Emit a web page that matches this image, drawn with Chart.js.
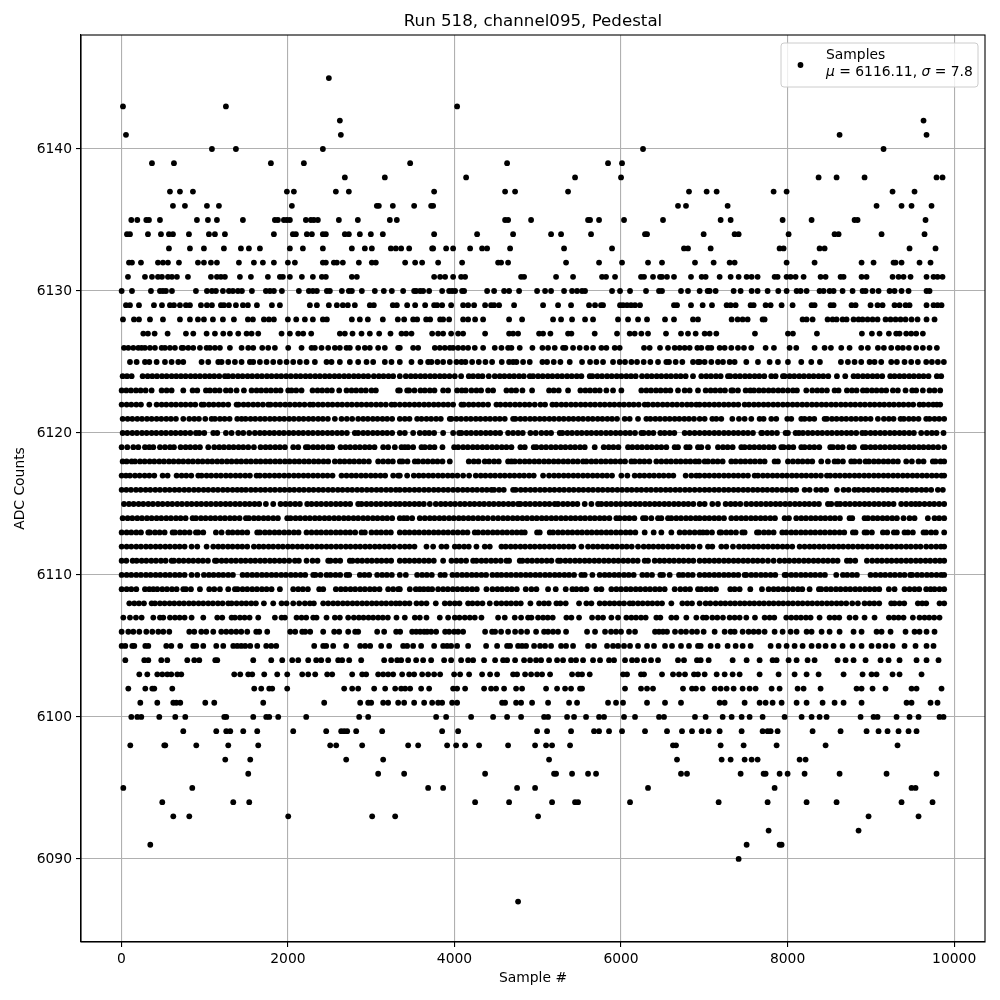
<!DOCTYPE html>
<html>
<head>
<meta charset="utf-8">
<title>Run 518, channel095, Pedestal</title>
<script src="https://cdn.jsdelivr.net/npm/chart.js@4"></script>
<style>
  html, body { margin: 0; padding: 0; background: #fff; }
  canvas { display: block; }
</style>
</head>
<body>
<canvas id="chart" width="1000" height="1000"></canvas>
<script>
// Sample numbers, one array per ADC level
const at6145 = [2492];
const at6143 = [20,1256,4032];
const at6142 = [2624,9632];
const at6141 = [56,2636,8624,9668];
const at6140 = [1088,1376,2420,6264,9152];
const at6139 = [368,632,1796,2192,3468,4632,5844,6012];
const at6138 = [2684,3164,4140,5448,6000,8372,8588,8924,9788,9860];
const at6137 = [584,704,860,1988,2072,2576,2732,3756,4608,4728,5364,6816,7028,7148,7832,7988,9260,9524];
const at6136 = [620,764,1028,1172,2048,3068,3092,3260,3516,3720,3744,6684,6780,7280,9068,9368,9488,9728];
const at6135 = [120,192,300,332,464,908,1040,1148,1460,1844,1880,1952,1988,2024,2216,2276,2312,2360,2612,2840,3224,3308,4608,4644,4920,5604,5628,5736,6036,6504,7196,7316,7940,8288,8804,8840,9656];
const at6134 = [68,104,320,476,572,620,812,1052,1124,1244,1832,2060,2096,2228,2288,2420,2456,2684,2732,2864,2996,3140,3756,4272,4704,5160,5280,5640,6288,6312,6992,7364,7412,8012,8564,8612,9128,9644];
const at6133 = [572,824,992,1232,1436,1532,1664,2024,2180,2420,2768,2924,3008,3236,3296,3360,3456,3732,3744,3900,3984,4188,4332,4392,4668,5316,5892,6756,6804,7076,7904,7952,8384,8444,9464,9776];
const at6132 = [92,128,236,440,500,560,692,920,992,1076,1148,1412,1592,1700,1832,2000,2084,2420,2456,2552,2588,2660,2852,3008,3056,3408,3528,3612,3804,4092,4524,4560,4644,5340,5736,6012,6324,6492,6888,7112,7304,7364,7988,8324,8888,9032,9272,9296,9368,9584,9716];
const at6131 = [80,284,368,440,488,560,608,668,800,1076,1148,1196,1244,1424,1556,1760,1904,1940,2024,2168,2300,2408,2456,2768,2828,3756,3828,3888,3984,4080,4128,4800,4836,5220,5424,5772,5820,5928,6240,6276,6384,6468,6492,6552,6636,6840,6968,7016,7184,7316,7412,7508,7568,7640,7844,7880,7988,8036,8096,8192,8396,8456,8636,8672,8888,8948,9260,9332,9392,9476,9668,9752,9800,9860];
const at6130 = [4,128,356,464,500,536,608,896,1028,1088,1136,1220,1292,1340,1400,1448,1568,1736,1784,1832,1928,2132,2252,2300,2348,2468,2504,2648,2732,2768,2888,3044,3152,3248,3384,3516,3540,3588,3624,3696,3852,3936,3972,4008,4092,4116,4392,4476,4596,4656,4776,4992,5088,5160,5316,5412,5472,5532,5568,5892,5988,6108,6300,6456,6492,6720,6804,6944,7040,7064,7136,7352,7436,7568,7640,7760,7888,7988,8108,8156,8228,8384,8432,8504,8552,8660,8780,8900,8936,9020,9092,9224,9284,9368,9452,9668,9704];
const at6129 = [56,104,212,392,488,584,632,704,776,824,956,1028,1088,1196,1232,1292,1376,1460,1520,1628,1808,1904,2264,2348,2492,2588,2660,2720,2804,2984,3032,3260,3308,3432,3528,3648,3756,3792,3852,3960,4104,4164,4236,4368,4440,4476,4536,4716,5064,5244,5400,5616,5688,5760,5784,5988,6024,6072,6120,6168,6228,6636,6672,6840,6980,7092,7268,7316,7376,7556,7592,7736,7796,7928,8060,8288,8324,8516,8552,8768,8816,8996,9080,9140,9284,9344,9416,9464,9668,9752,9800,9848];
const at6128 = [20,152,212,344,500,704,824,920,992,1100,1220,1352,1520,1580,1712,1772,1832,2000,2100,2204,2300,2420,2468,2768,2864,2960,3140,3320,3396,3504,3552,3660,3708,3828,3864,3936,4104,4164,4248,4344,4656,4812,5184,5280,5412,5568,5664,5964,6084,6204,6312,6528,6636,6864,6924,7328,7400,7460,7520,7700,7724,8180,8228,8300,8480,8540,8588,8660,8708,8792,8852,8900,8960,9020,9080,9176,9236,9296,9356,9416,9488,9560,9668,9764];
const at6127 = [264,320,400,556,776,864,1024,1124,1224,1304,1404,1504,1564,1644,1924,2024,2124,2184,2280,2624,2684,2776,2884,2984,3096,3232,3364,3420,3484,3732,3804,3864,3960,4044,4104,4368,4656,4704,4764,5016,5064,5152,5364,5404,5684,5952,6104,6164,6244,6324,6540,6720,6804,6896,7004,7064,7144,7608,8004,8064,8352,8892,9012,9104,9216,9304,9344,9424,9484,9544,9624];
const at6126 = [32,84,144,204,244,284,344,404,484,524,584,644,724,744,804,864,944,1024,1064,1124,1184,1304,1444,1524,1584,1692,1764,1844,2004,2164,2284,2324,2404,2484,2564,2624,2704,2744,2844,2924,2984,3084,3164,3324,3344,3504,3564,3764,3824,3884,3944,3984,4044,4104,4164,4244,4344,4484,4564,4644,4684,4784,4936,5056,5124,5204,5304,5332,5424,5504,5584,5664,5764,5824,5924,5984,6276,6344,6468,6564,6644,6704,6764,6824,6916,6964,7044,7084,7184,7244,7324,7404,7476,7564,7736,7836,8024,8104,8324,8444,8520,8644,8744,8884,8964,9084,9156,9244,9324,9384,9456,9544,9624,9704,9792];
const at6125 = [104,184,284,336,424,524,604,684,744,964,1044,1164,1204,1284,1364,1444,1544,1584,1664,1744,1824,1904,1984,2064,2144,2224,2324,2464,2524,2624,2744,2844,2944,3024,3164,3244,3344,3484,3592,3684,3724,3796,3864,3944,4024,4084,4132,4212,4292,4372,4452,4568,4656,4704,4744,4824,4904,5056,5112,5192,5272,5384,5532,5628,5704,5784,5904,5984,6048,6124,6192,6272,6352,6444,6544,6576,6656,6736,6864,6924,6944,7004,7084,7164,7224,7304,7364,7504,7644,7784,7884,8004,8164,8284,8388,8640,8724,8804,8884,8984,9044,9124,9244,9312,9404,9484,9564,9664,9732,9804,9876];
const at6124 = [16,68,124,256,316,372,428,488,544,604,660,716,772,832,888,944,1004,1060,1116,1176,1244,1284,1340,1400,1456,1516,1572,1632,1688,1748,1804,1864,1920,1980,2036,2096,2152,2212,2268,2328,2384,2444,2500,2560,2616,2676,2732,2792,2848,2908,2964,3032,3092,3148,3208,3264,3344,3416,3476,3532,3592,3648,3708,3764,3824,3880,3940,4004,4080,4172,4224,4284,4336,4412,4484,4544,4600,4660,4716,4776,4832,4904,4944,5004,5060,5120,5176,5236,5292,5352,5408,5468,5524,5624,5656,5716,5772,5832,5888,5948,6004,6064,6120,6176,6252,6312,6368,6428,6484,6544,6600,6660,6716,6776,6864,6964,7024,7080,7140,7196,7284,7312,7372,7428,7488,7544,7604,7660,7720,7804,7856,7944,7964,8024,8080,8140,8196,8256,8312,8372,8428,8488,8592,8692,8792,8844,8904,8960,9020,9076,9136,9232,9284,9344,9400,9460,9516,9576,9632,9692,9792,9844];
const at6123 = [4,60,116,176,232,292,364,484,544,604,744,856,912,1016,1064,1124,1180,1256,1312,1384,1472,1564,1624,1680,1740,1796,1856,1912,2004,2044,2100,2164,2296,2356,2412,2472,2528,2616,2704,2764,2820,2880,2936,3004,3056,3324,3344,3432,3456,3520,3592,3644,3704,3760,3864,3924,4032,4088,4136,4204,4264,4320,4404,4464,4624,4684,4740,4816,4932,5136,5192,5252,5364,5512,5572,5628,5688,5744,5824,5904,6004,6244,6304,6360,6420,6476,6536,6592,6684,6764,6824,6924,7016,7076,7132,7192,7248,7324,7344,7404,7496,7552,7596,7656,7712,7772,7828,7888,7944,8004,8064,8112,8224,8296,8356,8412,8472,8564,8612,8712,8772,8828,8904,8952,9012,9068,9128,9184,9264,9324,9416,9496,9544,9624,9704,9764,9832];
const at6122 = [4,64,120,180,236,336,424,484,540,600,656,716,772,832,888,964,992,1052,1108,1168,1224,1284,1384,1408,1468,1524,1584,1640,1700,1764,1792,1852,1908,1968,2024,2084,2140,2200,2264,2304,2364,2420,2480,2536,2596,2652,2712,2768,2828,2884,2944,3000,3060,3116,3176,3244,3284,3344,3404,3460,3520,3576,3636,3692,3752,3808,3868,3924,3984,4084,4112,4172,4228,4288,4344,4404,4504,4552,4612,4668,4728,4784,4844,4900,4964,5032,5088,5176,5224,5284,5340,5400,5456,5516,5572,5632,5688,5748,5804,5864,5920,5980,6036,6096,6152,6212,6284,6324,6384,6440,6500,6556,6616,6672,6732,6792,6844,6904,6944,7004,7060,7120,7176,7236,7292,7352,7408,7484,7536,7596,7652,7712,7768,7828,7884,7944,8000,8060,8116,8176,8232,8292,8348,8408,8464,8524,8580,8640,8696,8756,8812,8872,8928,8988,9044,9104,9160,9220,9276,9336,9392,9452,9508,9584,9632,9692,9748,9792,9832];
const at6121 = [16,76,132,192,248,308,364,424,480,540,596,656,744,816,876,932,1008,1084,1124,1184,1240,1300,1392,1444,1492,1552,1608,1668,1724,1784,1840,1900,1956,2016,2072,2132,2188,2248,2304,2364,2420,2480,2564,2644,2708,2772,2844,2904,2960,3020,3076,3136,3192,3252,3344,3404,3460,3552,3604,3664,3720,3780,3836,3944,3964,4024,4080,4140,4196,4256,4312,4372,4428,4488,4544,4604,4704,4732,4792,4848,4908,4964,5024,5080,5140,5196,5256,5312,5372,5428,5488,5544,5604,5660,5720,5776,5836,5892,5952,6044,6104,6204,6304,6352,6412,6468,6528,6584,6644,6700,6760,6816,6876,6944,7004,7096,7144,7204,7336,7416,7484,7564,7664,7712,7804,7864,7996,8044,8164,8204,8264,8320,8444,8472,8532,8588,8648,8704,8764,8820,8880,8936,8996,9084,9156,9216,9272,9356,9396,9456,9512,9572,9664,9704,9764,9820,9880];
const at6120 = [16,72,132,188,248,304,364,420,480,536,596,652,712,768,828,896,936,996,1104,1152,1256,1324,1404,1464,1536,1604,1664,1720,1780,1836,1896,1952,2012,2068,2128,2184,2244,2300,2360,2416,2476,2532,2592,2648,2708,2804,2844,2904,2960,3020,3076,3136,3192,3252,3344,3404,3504,3584,3644,3696,3756,3864,3984,4056,4084,4144,4200,4260,4316,4376,4432,4492,4548,4644,4704,4764,4820,4912,4976,5044,5104,5160,5264,5296,5356,5412,5472,5528,5588,5644,5704,5760,5820,5876,5936,5992,6052,6108,6168,6244,6272,6332,6388,6472,6524,6584,6640,6764,6824,6884,6944,7004,7060,7120,7176,7236,7292,7352,7408,7468,7524,7584,7684,7696,7756,7812,7872,7976,8004,8096,8136,8184,8244,8300,8360,8416,8476,8532,8592,8648,8708,8764,8824,8896,8936,8996,9052,9112,9168,9228,9284,9344,9400,9460,9516,9604,9672,9732,9788,9872];
const at6119 = [4,72,144,204,284,336,384,464,524,584,632,712,772,828,888,944,1044,1116,1176,1232,1292,1348,1408,1464,1524,1592,1672,1732,1788,1848,1904,1964,2064,2124,2216,2244,2304,2360,2420,2484,2532,2632,2692,2748,2808,2864,2924,2980,3040,3144,3204,3284,3364,3404,3444,3504,3604,3644,3704,3760,3856,3996,4044,4104,4160,4220,4276,4336,4392,4452,4508,4568,4624,4684,4792,4844,4952,4984,5044,5100,5160,5216,5276,5332,5392,5448,5508,5564,5684,5792,5852,5908,5968,6084,6136,6196,6252,6312,6368,6428,6484,6544,6644,6684,6784,6824,6924,6964,7044,7164,7224,7280,7340,7444,7484,7544,7600,7660,7716,7776,7832,7924,7952,8012,8068,8164,8204,8264,8320,8380,8512,8544,8604,8660,8744,8796,8904,8936,8996,9052,9112,9168,9228,9284,9344,9400,9460,9516,9576,9632,9692,9748,9808,9880];
const at6118 = [16,64,124,164,224,280,340,396,456,512,572,628,688,744,804,860,920,976,1036,1092,1152,1208,1268,1324,1384,1440,1500,1556,1616,1672,1732,1788,1848,1904,1964,2020,2080,2136,2196,2252,2312,2368,2428,2484,2564,2624,2680,2740,2796,2856,2912,2972,3084,3144,3204,3260,3344,3376,3436,3524,3564,3624,3680,3740,3796,3856,3944,4172,4232,4288,4364,4416,4476,4532,4644,4684,4724,4784,4844,4900,4960,5016,5076,5132,5192,5248,5308,5364,5424,5480,5544,5584,5644,5700,5760,5816,5876,5932,5992,6048,6124,6164,6224,6280,6340,6424,6484,6544,6600,6660,6716,6776,6832,6892,6936,7004,7044,7104,7160,7220,7324,7376,7436,7492,7552,7608,7668,7724,7844,7884,8004,8064,8124,8180,8240,8296,8404,8484,8564,8604,8664,8764,8804,8864,8936,8976,9036,9092,9152,9208,9268,9324,9424,9492,9572,9632,9744,9776,9836,9880];
const at6117 = [4,56,104,164,220,280,336,396,496,556,664,724,780,840,924,964,1024,1080,1140,1196,1256,1312,1372,1428,1488,1544,1624,1664,1724,1780,1840,1896,1956,2012,2072,2128,2188,2244,2304,2360,2420,2476,2536,2644,2704,2764,2820,2880,2936,2996,3052,3112,3168,3264,3324,3344,3432,3512,3572,3628,3688,3744,3804,3860,3920,3976,4036,4104,4176,4256,4316,4372,4432,4488,4548,4604,4664,4720,4780,4836,4896,4952,5064,5136,5196,5252,5312,5368,5428,5484,5544,5600,5660,5716,5776,5832,5892,6004,6076,6164,6224,6280,6340,6396,6456,6512,6572,6628,6776,6844,6904,6944,7004,7060,7120,7176,7236,7292,7352,7408,7468,7524,7604,7644,7704,7760,7820,7876,7936,7992,8052,8108,8168,8224,8284,8340,8400,8472,8512,8572,8628,8688,8744,8804,8860,8920,8976,9036,9092,9152,9208,9268,9324,9384,9440,9500,9556,9616,9672,9732,9788,9848,9880];
const at6116 = [4,60,116,176,232,292,348,408,464,524,580,640,696,756,812,872,928,988,1044,1104,1160,1220,1276,1336,1392,1444,1496,1556,1612,1672,1728,1788,1844,1904,1960,2020,2076,2136,2192,2252,2308,2368,2424,2484,2540,2600,2656,2716,2772,2832,2888,2948,3004,3064,3120,3180,3236,3296,3344,3404,3460,3520,3576,3636,3692,3752,3808,3868,3924,3984,4040,4100,4156,4216,4272,4332,4388,4444,4476,4536,4592,4704,4736,4796,4852,4912,4968,5028,5084,5144,5200,5260,5316,5376,5432,5492,5548,5608,5664,5724,5780,5840,5896,5956,6012,6072,6128,6188,6244,6304,6360,6420,6476,6536,6592,6652,6708,6768,6824,6884,6944,7004,7060,7120,7176,7236,7292,7352,7408,7468,7524,7584,7640,7700,7756,7816,7872,7932,7988,8048,8104,8204,8264,8344,8404,8464,8592,8672,8732,8804,8852,8912,8968,9028,9084,9144,9200,9260,9316,9376,9432,9492,9548,9608,9664,9724,9804,9864];
const at6115 = [32,92,148,208,264,324,380,440,496,556,612,672,728,788,844,904,960,1020,1076,1136,1192,1252,1308,1368,1424,1484,1540,1600,1656,1736,1824,1912,1972,2028,2088,2144,2232,2284,2344,2400,2460,2516,2576,2632,2692,2748,2844,2884,2944,3000,3060,3116,3176,3232,3292,3344,3404,3460,3520,3576,3632,3704,3776,3836,3892,3952,4008,4068,4124,4184,4240,4300,4356,4416,4472,4532,4588,4648,4704,4764,4792,4852,4908,4968,5024,5084,5140,5204,5244,5304,5360,5420,5476,5564,5644,5724,5764,5824,5880,5940,5996,6056,6112,6172,6228,6288,6344,6404,6460,6520,6576,6636,6692,6752,6808,6868,6944,7004,7096,7164,7256,7316,7372,7432,7504,7564,7624,7680,7740,7796,7856,7912,7972,8028,8088,8144,8204,8260,8320,8376,8484,8524,8592,8632,8692,8748,8808,8864,8924,8980,9040,9096,9156,9212,9272,9364,9424,9484,9536,9584,9644,9704,9760,9820,9880];
const at6114 = [16,76,132,192,248,308,364,424,480,540,596,656,712,772,856,896,956,1012,1072,1128,1188,1244,1304,1360,1420,1496,1532,1592,1648,1708,1764,1824,1880,1992,2032,2092,2148,2208,2264,2324,2380,2440,2496,2556,2612,2672,2728,2788,2844,2904,2960,3020,3076,3136,3192,3252,3344,3392,3432,3492,3584,3644,3704,3760,3820,3876,3936,3992,4052,4108,4168,4224,4284,4340,4400,4464,4524,4584,4640,4700,4756,4816,4872,4932,4988,5048,5104,5164,5220,5280,5336,5396,5452,5512,5568,5628,5684,5744,5800,5860,5944,5984,6044,6100,6160,6264,6296,6364,6444,6484,6564,6604,6664,6720,6780,6836,6896,6944,7004,7060,7120,7176,7236,7324,7384,7444,7500,7560,7616,7676,7732,7792,7848,7964,8016,8104,8164,8220,8280,8336,8396,8452,8512,8568,8628,8744,8776,8924,8964,9024,9080,9140,9196,9256,9312,9392,9464,9524,9684,9764,9820,9880];
const at6113 = [4,64,120,180,236,324,344,404,460,520,616,644,704,760,820,896,924,984,1136,1204,1284,1336,1396,1452,1512,1632,1664,1724,1780,1840,1896,1956,2012,2072,2128,2224,2284,2344,2400,2460,2516,2576,2632,2692,2748,2808,2884,2924,3004,3064,3120,3180,3236,3344,3404,3460,3520,3576,3636,3692,3752,3808,3868,3924,3984,4040,4100,4156,4244,4284,4344,4400,4460,4516,4576,4632,4692,4748,4804,4844,4992,5024,5144,5184,5244,5300,5360,5416,5476,5532,5592,5648,5708,5764,5824,5880,5940,5996,6056,6112,6172,6284,6392,6484,6604,6704,6764,6824,6884,6944,6984,7032,7092,7184,7204,7264,7320,7380,7456,7484,7632,7656,7716,7772,7832,7936,7984,8044,8100,8160,8216,8276,8332,8392,8448,8508,8564,8624,8680,8784,8816,8924,8952,9012,9144,9196,9276,9312,9404,9444,9504,9632,9664,9724,9780,9880];
const at6112 = [4,64,120,180,236,296,352,412,468,528,584,644,700,760,844,912,1024,1104,1164,1220,1280,1336,1396,1452,1512,1592,1652,1708,1768,1824,1884,1940,2000,2056,2116,2172,2232,2288,2348,2404,2464,2520,2580,2636,2696,2752,2812,2868,2928,2984,3044,3100,3160,3216,3276,3344,3404,3460,3520,3664,3744,3844,3904,4004,4056,4116,4172,4264,4364,4424,4564,4616,4676,4732,4792,4848,4908,4964,5024,5080,5140,5196,5256,5312,5372,5428,5524,5604,5664,5720,5780,5836,5896,5952,6012,6068,6128,6204,6272,6332,6388,6448,6504,6564,6620,6680,6744,6804,6864,6944,7044,7096,7204,7264,7344,7416,7476,7532,7592,7648,7708,7764,7824,7880,7940,7996,8056,8144,8204,8264,8320,8380,8436,8496,8552,8612,8668,8728,8784,8844,8900,8960,9016,9076,9132,9192,9248,9308,9364,9424,9480,9540,9596,9664,9724,9784,9840,9880];
const at6111 = [4,60,136,184,244,300,360,416,476,532,604,632,692,748,808,864,924,980,1040,1124,1144,1204,1260,1320,1376,1436,1492,1552,1608,1668,1724,1784,1840,1900,1956,2016,2084,2132,2224,2296,2356,2484,2512,2572,2628,2744,2776,2836,2892,2952,3008,3068,3124,3184,3240,3344,3404,3460,3520,3576,3636,3692,3752,3864,3964,4024,4080,4140,4224,4264,4324,4380,4440,4496,4556,4624,4656,4784,4816,4876,4932,4992,5048,5108,5164,5244,5272,5332,5388,5448,5504,5564,5620,5680,5736,5796,5852,5912,5968,6028,6084,6144,6200,6284,6324,6404,6464,6520,6580,6636,6696,6752,6812,6868,6944,7004,7060,7120,7176,7236,7292,7352,7408,7468,7524,7584,7640,7700,7764,7832,7904,7964,8020,8080,8136,8196,8252,8312,8368,8428,8484,8544,8600,8712,8752,8812,8952,9016,9076,9132,9192,9248,9308,9364,9424,9480,9540,9596,9656,9712,9772,9828,9880];
const at6110 = [4,64,120,180,236,296,352,412,468,528,584,644,700,760,844,912,992,1052,1108,1168,1224,1284,1340,1456,1512,1572,1628,1688,1744,1804,1860,1920,1976,2036,2092,2152,2208,2304,2332,2392,2464,2512,2572,2628,2704,2736,2864,2920,2976,3072,3132,3188,3248,3344,3416,3552,3612,3668,3728,3832,3884,3976,4032,4092,4148,4208,4264,4324,4380,4456,4512,4564,4624,4680,4740,4796,4856,4912,4972,5028,5088,5144,5204,5260,5320,5376,5436,5524,5564,5656,5744,5804,5860,5920,5976,6036,6092,6152,6256,6312,6372,6472,6504,6584,6696,6744,6804,6860,6944,7004,7060,7120,7176,7236,7292,7352,7408,7484,7504,7564,7620,7680,7736,7796,7852,7964,7984,8044,8100,8160,8216,8276,8332,8392,8448,8584,8664,8716,8776,8832,8996,9056,9116,9172,9232,9288,9348,9404,9472,9496,9556,9612,9672,9728,9788,9844,9880];
const at6109 = [4,64,120,180,284,336,384,432,492,548,608,664,744,776,836,944,1056,1116,1184,1284,1364,1396,1456,1512,1572,1628,1688,1744,1804,1904,2064,2124,2180,2240,2376,2424,2576,2636,2692,2752,2808,2868,2924,2984,3040,3100,3204,3264,3324,3344,3464,3536,3584,3632,3684,3732,3804,3864,3920,3980,4036,4096,4152,4212,4268,4384,4456,4516,4572,4632,4688,4748,4856,4924,4984,5124,5216,5336,5416,5464,5524,5584,5704,5764,5884,5944,6000,6060,6116,6176,6232,6292,6348,6408,6464,6524,6644,6712,6772,6828,6924,6964,7024,7080,7140,7312,7364,7424,7552,7692,7772,7832,7888,7948,8004,8064,8124,8176,8264,8376,8404,8464,8520,8580,8636,8696,8752,8812,8868,8928,8984,9044,9100,9216,9284,9404,9464,9524,9580,9664,9716,9764,9824,9880];
const at6108 = [96,156,212,272,364,404,464,520,580,636,696,752,812,868,928,984,1044,1100,1160,1216,1284,1324,1384,1444,1500,1560,1616,1712,1824,1924,1984,2064,2136,2204,2264,2312,2424,2484,2544,2600,2660,2716,2776,2832,2892,2948,3008,3064,3124,3180,3240,3296,3344,3404,3460,3544,3604,3664,3776,3884,3944,4004,4060,4164,4216,4276,4336,4424,4504,4564,4624,4680,4740,4796,4912,5016,5076,5132,5224,5272,5336,5496,5584,5644,5744,5804,5864,5920,5980,6036,6104,6144,6204,6260,6320,6376,6436,6492,6604,6736,6796,6852,6944,7016,7072,7136,7196,7252,7312,7368,7428,7484,7544,7600,7660,7716,7776,7832,7892,7948,8008,8064,8124,8180,8240,8296,8356,8412,8472,8528,8588,8644,8704,8776,8844,8924,8984,9040,9100,9244,9284,9344,9400,9564,9616,9664,9824,9880];
const at6107 = [24,104,176,244,384,464,504,584,644,700,760,844,984,1152,1212,1324,1364,1424,1480,1540,1644,1844,1924,1964,2104,2164,2220,2304,2344,2464,2564,2624,2724,2792,2852,2908,2968,3024,3084,3140,3200,3304,3404,3524,3584,3664,3824,3924,4004,4060,4124,4184,4244,4324,4524,4604,4724,4800,4884,4924,5004,5064,5120,5180,5344,5404,5496,5652,5724,5784,5884,5964,6064,6124,6180,6240,6296,6424,6472,6604,6664,6784,6904,6984,7024,7096,7156,7224,7304,7364,7424,7504,7608,7724,7784,7840,7984,8044,8104,8160,8220,8276,8384,8504,8564,8620,8744,8816,8924,9044,9216,9276,9332,9392,9504,9584,9644,9700,9760,9824];
const at6106 = [4,84,144,216,300,372,444,504,576,816,876,960,1020,1104,1200,1260,1320,1380,1440,1512,1620,1656,1752,2028,2088,2172,2208,2268,2424,2556,2616,2724,2808,2844,3072,3156,3300,3348,3492,3540,3588,3636,3672,3720,3780,3888,3936,3996,4044,4104,4368,4452,4488,4560,4644,4728,4800,4872,4980,5076,5124,5184,5244,5340,5592,5688,5808,5880,5940,6000,6096,6168,6408,6456,6504,6552,6648,6720,6780,6852,6912,6992,7124,7244,7316,7364,7460,7532,7592,7652,7724,7844,7940,8036,8108,8228,8288,8408,8504,8624,8792,8888,9068,9128,9236,9416,9524,9584,9668,9764];
const at6105 = [4,48,132,156,288,324,540,600,708,864,900,984,1140,1224,1344,1392,1440,1488,1548,1632,1740,1800,1860,2316,2424,2460,2544,2700,2868,2928,2988,3120,3216,3384,3432,3504,3600,3756,3864,3912,3960,4032,4164,4380,4512,4632,4668,4764,4812,4860,4956,5028,5088,5160,5280,5340,5424,5604,5676,5832,5904,5964,6036,6108,6204,6312,6396,6528,6612,6720,6816,6924,6956,7076,7160,7280,7376,7460,7556,7796,7892,7988,8084,8180,8288,8372,8456,8552,8660,8780,8888,9008,9092,9176,9260,9404,9536,9668,9752];
const at6104 = [48,276,324,480,552,792,876,936,1128,1152,1584,1800,1932,2052,2124,2244,2340,2400,2484,2604,2652,2736,2880,3156,3240,3312,3360,3444,3540,3624,3720,3876,3960,4080,4164,4224,4356,4488,4584,4632,4728,4836,4908,4980,5040,5136,5232,5304,5400,5460,5544,5664,5748,5856,5916,6048,6132,6192,6276,6360,6444,6684,6756,6912,6956,7052,7340,7508,7664,7820,7868,8012,8108,8240,8324,8600,8696,8792,8936,9116,9212,9344,9548,9668,9812];
const at6103 = [216,312,432,492,552,600,672,720,1356,1428,1524,1572,1716,1872,1992,2172,2244,2328,2472,2532,2772,2892,2940,3084,3144,3204,3264,3372,3456,3516,3612,3684,3756,3828,3996,4068,4176,4332,4428,4512,4704,4752,4848,4920,4992,5052,5148,5412,5484,5532,5624,6024,6072,6240,6276,6492,6624,6696,6768,6876,6924,7004,7148,7244,7340,7424,7664,7892,8084,8228,8372,8672,8900,9008,9068,9260,9344,9608];
const at6102 = [84,288,372,396,612,1596,1680,1776,1812,1992,2676,2772,2844,3036,3168,3288,3360,3408,3468,3600,3696,3984,4032,4128,4356,4440,4500,4596,4740,4812,5100,5232,5328,5400,5508,5532,6048,6240,6312,6384,6744,6852,6900,6980,7124,7196,7268,7352,7460,7544,7616,7808,7904,8120,8192,8396,8828,8888,9020,9176,9488,9548,9848];
const at6101 = [228,432,624,660,708,1008,1116,1704,2436,2868,2964,3000,3144,3204,3324,3396,3516,3636,3732,3804,3852,3972,4032,4572,4608,4740,4800,4932,5124,5376,5472,5844,5940,6024,6312,6528,6720,7184,7244,7484,7664,7736,7820,7928,8108,8228,8420,8564,8672,8888,9428,9488,9716,9800];
const at6100 = [120,192,240,456,648,768,1236,1260,1584,1740,1776,1884,2220,2856,2964,3780,3900,4200,4464,4632,4800,5076,5124,5352,5436,5580,5736,5796,6036,6168,6456,6516,6888,7016,7220,7328,7448,7544,7700,7964,8168,8288,8384,8468,8876,9032,9080,9308,9464,9572,9824,9872];
const at6099 = [744,1140,1260,1308,1464,1632,2064,2460,2640,2676,2712,2820,3132,3852,4044,4992,5112,5400,5676,5736,5856,6012,6288,6552,6732,6852,6968,7052,7184,7448,7700,7760,7796,7880,8300,8636,8948,9092,9200,9332,9452,9548];
const at6098 = [108,516,528,900,1284,1644,2508,2580,2892,3444,3564,3912,4020,4128,4296,4644,4968,5100,5172,5388,6624,6660,7196,7472,7868,8456,9320];
const at6097 = [1248,1548,2700,3144,5136,6672,7208,7316,7484,7568,7640,8144,8216];
const at6096 = [1524,3084,3396,4368,5196,5220,5412,5604,5700,6720,6792,7436,7712,7736,7904,8000,8204,8624,9188,9788];
const at6095 = [24,852,3684,3864,4752,4968,6324,7844,9488,9536];
const at6094 = [492,1344,1536,4248,4656,5172,5448,5484,6108,7172,7760,8228,8588,9368,9740];
const at6093 = [624,816,2004,3012,3288,5004,8972,9572];
const at6092 = [7772,8852];
const at6091 = [348,7508,7904,7928];
const at6090 = [7412];
const at6087 = [4764];

const levels = [6145,6143,6142,6141,6140,6139,6138,6137,6136,6135,6134,6133,6132,6131,6130,6129,6128,6127,6126,6125,6124,6123,6122,6121,6120,6119,6118,6117,6116,6115,6114,6113,6112,6111,6110,6109,6108,6107,6106,6105,6104,6103,6102,6101,6100,6099,6098,6097,6096,6095,6094,6093,6092,6091,6090,6087];
const sampleRows = [at6145,at6143,at6142,at6141,at6140,at6139,at6138,at6137,at6136,at6135,at6134,at6133,at6132,at6131,at6130,at6129,at6128,at6127,at6126,at6125,at6124,at6123,at6122,at6121,at6120,at6119,at6118,at6117,at6116,at6115,at6114,at6113,at6112,at6111,at6110,at6109,at6108,at6107,at6106,at6105,at6104,at6103,at6102,at6101,at6100,at6099,at6098,at6097,at6096,at6095,at6094,at6093,at6092,at6091,at6090,at6087];

const xTicks = [0,2000,4000,6000,8000,10000];
const yTicks = [6090,6100,6110,6120,6130,6140];

const chartTitle = 'Run 518, channel095, Pedestal';
const xLabel = 'Sample #';
const yLabel = 'ADC Counts';
const legendName = 'Samples';

const FONT = '"DejaVu Sans", sans-serif';

const points = [];
sampleRows.forEach((row, i) => {
    row.forEach(s => points.push({ x: s, y: levels[i] }));
});

// fourth side of the frame and the two line legend box
const framePlugin = {
    id: 'frame',
    afterDatasetsDraw(chart) {
        const { ctx, chartArea: a } = chart;
        ctx.save();
        ctx.strokeStyle = '#000';
        ctx.lineWidth = 1.1;
        ctx.strokeRect(a.left, a.top, a.right - a.left, a.bottom - a.top);

        // legend box
        const x = 781, y = 43, w = 197, h = 44, r = 3;
        ctx.beginPath();
        ctx.roundRect(x, y, w, h, r);
        ctx.fillStyle = 'rgba(255,255,255,0.8)';
        ctx.fill();
        ctx.strokeStyle = '#cccccc';
        ctx.lineWidth = 1;
        ctx.stroke();

        ctx.fillStyle = '#000';
        ctx.beginPath();
        ctx.arc(800.5, 65, 2.9, 0, Math.PI * 2);
        ctx.fill();

        ctx.textBaseline = 'alphabetic';
        ctx.textAlign = 'left';
        ctx.font = '13.89px ' + FONT;
        ctx.fillText(legendName, 826, 59);

        let tx = 826;
        const parts = [['italic', '\u03bc'], ['normal', ' = 6116.11, '], ['italic', '\u03c3'], ['normal', ' = 7.8']];
        parts.forEach(p => {
            ctx.font = p[0] + ' 13.89px ' + FONT;
            ctx.fillText(p[1], tx, 76);
            tx += ctx.measureText(p[1]).width;
        });
        ctx.restore();
    }
};

new Chart(document.getElementById('chart').getContext('2d'), {
    type: 'scatter',
    data: {
        datasets: [{
            label: legendName,
            data: points,
            backgroundColor: '#000',
            borderWidth: 0,
            pointRadius: 2.9,
            pointHoverRadius: 2.9
        }]
    },
    options: {
        responsive: false,
        animation: false,
        layout: { padding: { top: 0, right: 15, bottom: 0, left: 0 } },
        plugins: {
            legend: { display: false },
            tooltip: { enabled: false },
            title: {
                display: true,
                text: chartTitle,
                color: '#000',
                fullSize: false,
                font: { family: FONT, size: 16.67, weight: 'normal' },
                padding: { top: 12, bottom: 3 }
            }
        },
        scales: {
            x: {
                type: 'linear',
                min: -484,
                max: 10370,
                afterBuildTicks(scale) { scale.ticks = xTicks.map(v => ({ value: v })); },
                afterFit(scale) { scale.height = 58; },
                grid: { color: '#b0b0b0', lineWidth: 1.1, tickColor: '#000', tickLength: 5, tickWidth: 1.1 },
                border: { color: '#000', width: 1.1 },
                ticks: {
                    autoSkip: false,
                    maxRotation: 0,
                    color: '#000',
                    padding: 4,
                    callback: v => String(v),
                    font: { family: FONT, size: 13.89 }
                },
                title: {
                    display: true,
                    text: xLabel,
                    color: '#000',
                    font: { family: FONT, size: 13.89 },
                    padding: { top: 4, bottom: 13 }
                }
            },
            y: {
                type: 'linear',
                min: 6084.15,
                max: 6148.03,
                afterBuildTicks(scale) { scale.ticks = yTicks.map(v => ({ value: v })); },
                afterFit(scale) { scale.width = 81; },
                grid: { color: '#b0b0b0', lineWidth: 1.1, tickColor: '#000', tickLength: 5, tickWidth: 1.1 },
                border: { color: '#000', width: 1.1 },
                ticks: {
                    autoSkip: false,
                    color: '#000',
                    padding: 4,
                    callback: v => String(v),
                    font: { family: FONT, size: 13.89 }
                },
                title: {
                    display: true,
                    text: yLabel,
                    color: '#000',
                    font: { family: FONT, size: 13.89 },
                    padding: { top: 12, bottom: 4 }
                }
            }
        }
    },
    plugins: [framePlugin]
});
</script>
</body>
</html>
